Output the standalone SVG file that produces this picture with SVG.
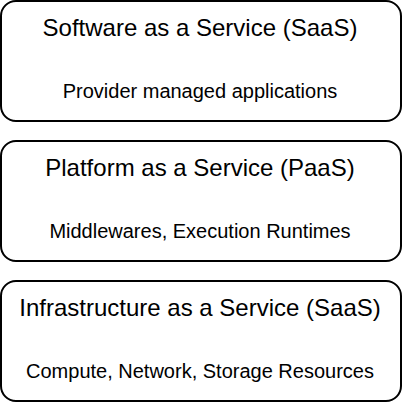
<svg xmlns="http://www.w3.org/2000/svg" width="402" height="402" viewBox="0 0 402 402">
<style>
.box{fill:#fff;stroke:#000;stroke-width:2}
.t{font-family:"Liberation Sans",Arial,sans-serif;fill:#000;text-anchor:middle}
.h{font-size:24px}
.s{font-size:20px}
</style>
<rect width="402" height="402" fill="#fff"/>
<g id="saas">
<rect class="box" x="1" y="1" width="400" height="120" rx="15" ry="15"/>
<text class="t h" x="200" y="36">Software as a Service (SaaS)</text>
<text class="t s" x="200" y="98">Provider managed applications</text>
</g>
<g id="paas">
<rect class="box" x="1" y="141" width="400" height="120" rx="15" ry="15"/>
<text class="t h" x="200" y="176">Platform as a Service (PaaS)</text>
<text class="t s" x="200" y="238">Middlewares, Execution Runtimes</text>
</g>
<g id="iaas">
<rect class="box" x="1" y="281" width="400" height="120" rx="15" ry="15"/>
<text class="t h" x="200" y="316">Infrastructure as a Service (SaaS)</text>
<text class="t s" x="200" y="378">Compute, Network, Storage Resources</text>
</g>
<g id="connectors"></g>
</svg>
